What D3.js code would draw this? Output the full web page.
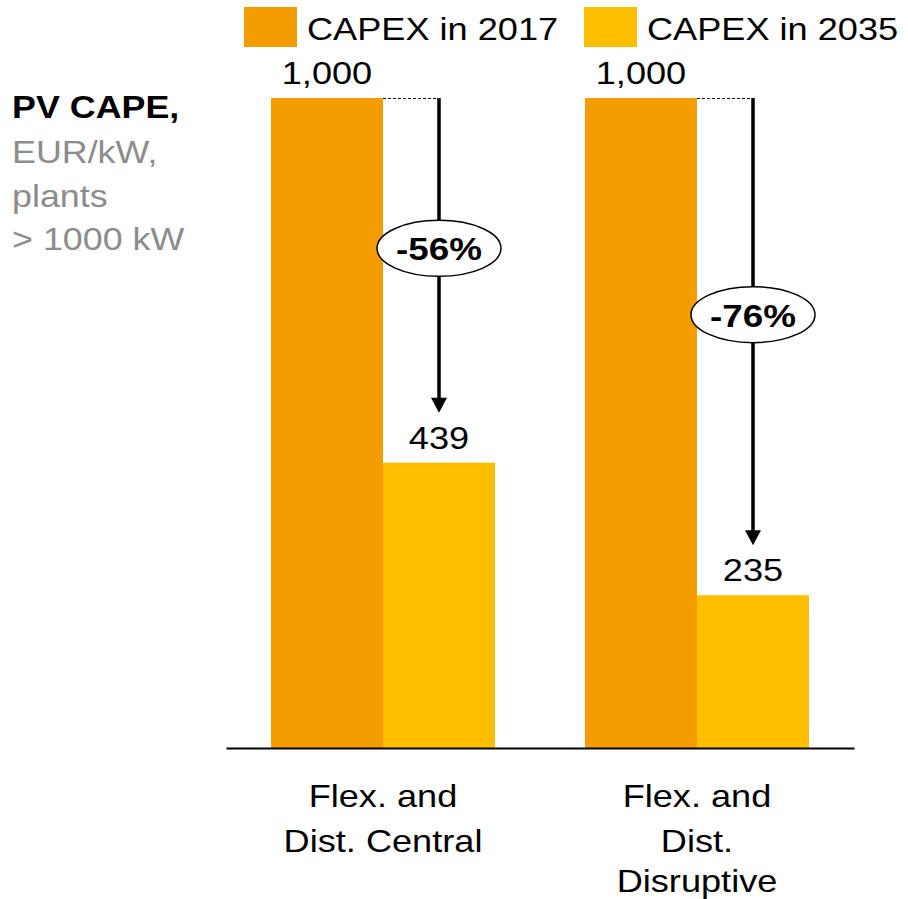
<!DOCTYPE html>
<html>
<head>
<meta charset="utf-8">
<script src="https://d3js.org/d3.v7.min.js"></script>
<style>
  body { margin: 0; background: #fff; }
  svg { font-family: "Liberation Sans", Arial, sans-serif; }
</style>
</head>
<body>
<div id="chart"></div>
<script>
// data
var categories = ["Flex. and Dist. Central", "Flex. and Dist. Disruptive"];
var categoryLines = [["Flex. and", "Dist. Central"], ["Flex. and", "Dist.", "Disruptive"]];
var series = ["CAPEX in 2017", "CAPEX in 2035"];
var capex2017 = [1000, 1000];
var capex2035 = [439, 235];
var changeLabels = ["-56%", "-76%"];
var titleLines = ["PV CAPE,", "EUR/kW,", "plants", "> 1000 kW"];

var width = 908, height = 899;
var colors = ["#F39D00", "#FFBF00"];
var stretch = 1.13; // the original text is drawn a bit wide

var svg = d3.select("#chart").append("svg")
  .attr("width", width)
  .attr("height", height);

// scales
var x0 = d3.scaleBand()
  .domain(categories)
  .range([226, 854])
  .paddingInner(0.2866)
  .paddingOuter(0.1433);
var x1 = d3.scaleBand()
  .domain(series)
  .range([0, x0.bandwidth()]);
var y = d3.scaleLinear()
  .domain([0, 1000])
  .range([748, 98]);

var color = d3.scaleOrdinal().domain(series).range(colors);

function label(g, x, yy, str, sx, opts) {
  opts = opts || {};
  return g.append("text")
    .attr("transform", "translate(" + x + "," + yy + ") scale(" + sx + ",1)")
    .attr("text-anchor", opts.anchor || "start")
    .attr("font-size", opts.size || 32)
    .attr("font-weight", opts.weight || "normal")
    .attr("fill", opts.fill || "#000")
    .text(str);
}

var rows = categories.map(function(c, i) {
  return { cat: c, values: [capex2017[i], capex2035[i]] };
});

// bars
var groups = svg.append("g").selectAll("g")
  .data(rows).enter().append("g")
  .attr("transform", function(d) { return "translate(" + x0(d.cat) + ",0)"; });

groups.selectAll("rect")
  .data(function(d) { return d.values.map(function(v, j) { return { s: series[j], v: v }; }); })
  .enter().append("rect")
  .attr("x", function(d) { return x1(d.s); })
  .attr("y", function(d) { return y(d.v); })
  .attr("width", x1.bandwidth())
  .attr("height", function(d) { return y(0) - y(d.v); })
  .attr("fill", function(d) { return color(d.s); });

// value labels
rows.forEach(function(d, i) {
  d.values.forEach(function(v, j) {
    var cx = x0(d.cat) + x1(series[j]) + x1.bandwidth() / 2;
    label(svg, cx, y(v) - 14, d3.format(",")(v), stretch, { anchor: "middle" });
  });
});

// arrows with change bubbles
rows.forEach(function(d, i) {
  var ax = x0(d.cat) + x1(series[1]) + x1.bandwidth() / 2;
  var top = y(d.values[0]);
  var tip = y(d.values[1]) - 50;
  svg.append("line")
    .attr("x1", x0(d.cat) + x1(series[0]) + x1.bandwidth())
    .attr("x2", ax)
    .attr("y1", top + 0.5).attr("y2", top + 0.5)
    .attr("stroke", "#000").attr("stroke-width", 1)
    .attr("stroke-dasharray", "3,2");
  svg.append("line")
    .attr("x1", ax).attr("x2", ax)
    .attr("y1", top).attr("y2", tip - 12)
    .attr("stroke", "#000").attr("stroke-width", 3.5);
  svg.append("path")
    .attr("d", "M" + (ax - 8) + "," + (tip - 15) + "L" + (ax + 8) + "," + (tip - 15) + "L" + ax + "," + tip + "Z")
    .attr("fill", "#000");
  var ey = (top + tip) / 2 - 7;
  svg.append("ellipse")
    .attr("cx", ax).attr("cy", ey)
    .attr("rx", 62).attr("ry", 28)
    .attr("fill", "#fff").attr("stroke", "#000").attr("stroke-width", 1.5);
  label(svg, ax, ey + 12, changeLabels[i], 1.15, { anchor: "middle", weight: "bold" });
});

// axis
var xAxis = d3.axisBottom(x0).tickSize(0).tickSizeOuter(0).tickFormat("");
svg.append("g")
  .attr("transform", "translate(0," + y(0) + ")")
  .call(xAxis)
  .select(".domain")
  .attr("stroke", "#000").attr("stroke-width", 2);

var catY = [807, 852, 892];
categories.forEach(function(c, i) {
  categoryLines[i].forEach(function(t, k) {
    label(svg, x0(c) + x0.bandwidth() / 2, catY[k], t, stretch, { anchor: "middle" });
  });
});

// legend
var legendX = [244, 584];
series.forEach(function(s, j) {
  svg.append("rect")
    .attr("x", legendX[j]).attr("y", 7)
    .attr("width", 53).attr("height", 40)
    .attr("fill", color(s));
  label(svg, legendX[j] + 63, 40, s, stretch);
});

// title block
var titleY = [118, 163, 207, 250];
titleLines.forEach(function(t, k) {
  label(svg, 12, titleY[k], t, 1.12, {
    weight: k === 0 ? "bold" : "normal",
    fill: k === 0 ? "#000" : "#8C8C8C"
  });
});
</script>
</body>
</html>
